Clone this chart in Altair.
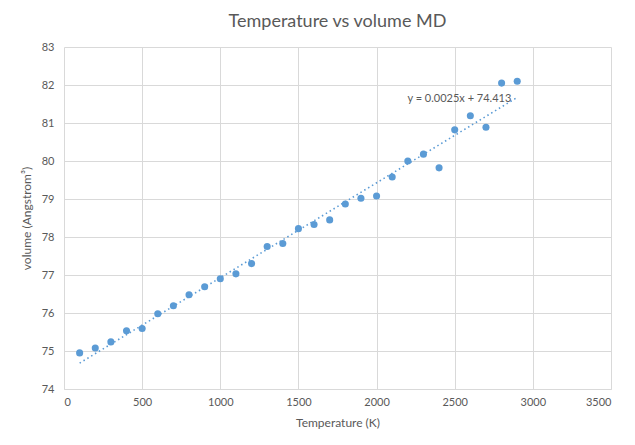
import altair as alt
import pandas as pd

temperature = [100, 200, 300, 400, 500, 600, 700, 800, 900, 1000,
               1100, 1200, 1300, 1400, 1500, 1600, 1700, 1800, 1900, 2000,
               2100, 2200, 2300, 2400, 2500, 2600, 2700, 2800, 2900]
volume = [74.95, 75.08, 75.24, 75.53, 75.59, 75.98, 76.19, 76.48, 76.69, 76.90,
          77.03, 77.30, 77.75, 77.83, 78.22, 78.33, 78.45, 78.87, 79.02, 79.08,
          79.58, 80.00, 80.18, 79.82, 80.82, 81.19, 80.89, 82.05, 82.10]

eq_text = ["y = 0.0025x + 74.413"]
eq_x = [2530]
eq_y = [81.64]

df = pd.DataFrame({"T": temperature, "V": volume})
lab = pd.DataFrame({"x": eq_x, "y": eq_y, "t": eq_text})

FONT = "Lato"
GREY = "#595959"
BLUE = "#5b9bd5"

xs = alt.Scale(domain=[0, 3500], nice=False)
ys = alt.Scale(domain=[74, 83], nice=False, zero=False)

xaxis = alt.Axis(values=list(range(0, 3501, 500)), title="Temperature (K)", format="d",
                 labelOverlap=False, grid=True, ticks=False, domain=True,
                 labelPadding=7, titlePadding=10)
yaxis = alt.Axis(values=list(range(74, 84)), title="volume (Angstrom³)", format="d",
                 labelOverlap=False, grid=True, ticks=False, domain=False,
                 labelPadding=10, titlePadding=8, tickCount=10)

X = lambda f: alt.X(f, scale=xs, axis=xaxis)
Y = lambda f: alt.Y(f, scale=ys, axis=yaxis)

trend = alt.Chart(df).transform_regression("T", "V").mark_line(
    color=BLUE, strokeDash=[1.5, 3], strokeWidth=1.6
).encode(x=X("T:Q"), y=Y("V:Q"))

points = alt.Chart(df).mark_circle(size=50, color=BLUE, opacity=1).encode(
    x=X("T:Q"), y=Y("V:Q"),
)

label = alt.Chart(lab).mark_text(font=FONT, fontSize=11, color=GREY, align="center").encode(
    x=X("x:Q"), y=Y("y:Q"), text="t:N"
)

chart = alt.layer(trend, points, label).properties(
    width=547, height=342,
    title=alt.TitleParams("Temperature vs volume MD", font=FONT, fontSize=18,
                          fontWeight="normal", color=GREY, anchor="middle", offset=10),
    autosize=alt.AutoSizeParams(type="none"),
    padding={"left": 56, "top": 39, "right": 16, "bottom": 40},
).configure_axis(
    labelFont=FONT, titleFont=FONT, labelFontSize=11, titleFontSize=12,
    labelColor=GREY, titleColor=GREY, titleFontWeight="normal",
    gridColor="#d9d9d9", domainColor="#d9d9d9",
).configure_view(stroke=None)

chart.save("out.html", embed_options={"renderer": "svg", "actions": False})
